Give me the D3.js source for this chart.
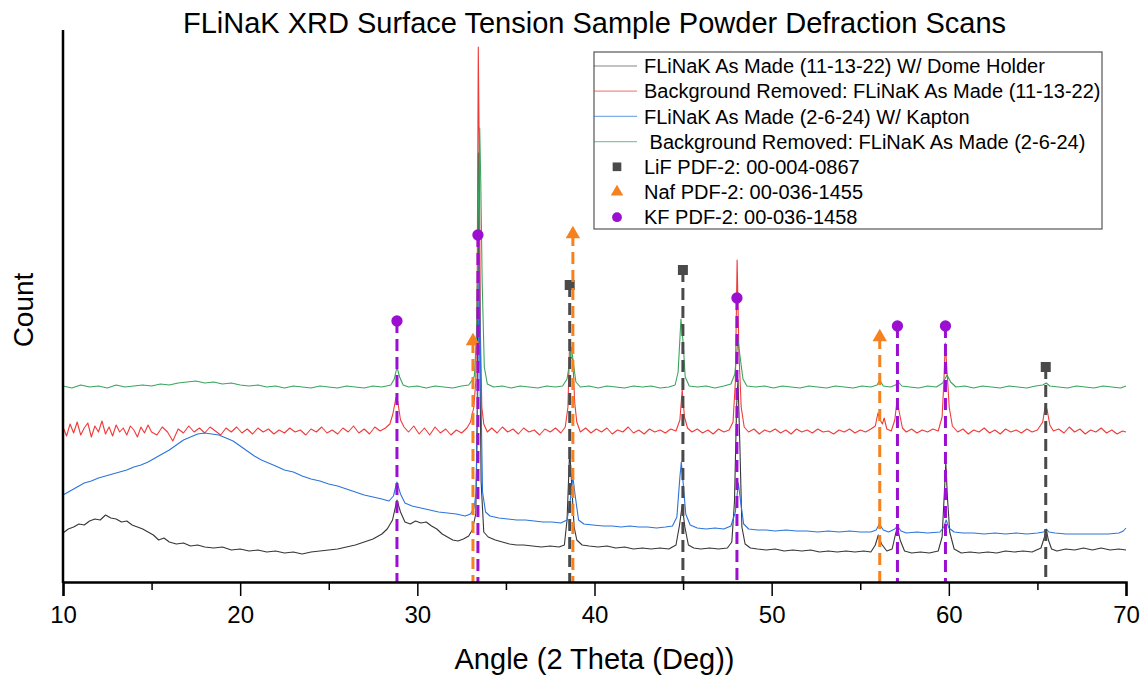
<!DOCTYPE html>
<html>
<head>
<meta charset="utf-8">
<script src="https://cdn.jsdelivr.net/npm/d3@7"></script>
<style>
  body { margin: 0; background: #fff; }
  text { font-family: "Liberation Sans", Arial, sans-serif; }
</style>
</head>
<body>
<svg id="chart"></svg>
<script>
// scan data: [angle (2 theta), count (arbitrary units)]
const domeScan = [
  [10, 49], [10.3, 53], [10.6, 55], [10.9, 58], [11.2, 57], [11.5, 61], [11.8, 63], [12.1, 62], [12.4, 67], [12.7, 64],
  [13.0, 63], [13.3, 60], [13.6, 61], [13.9, 57], [14.2, 55], [14.5, 53], [14.8, 50], [15.1, 47], [15.4, 42], [15.7, 44],
  [16.0, 40], [16.4, 38], [16.8, 39], [17.2, 36], [17.6, 37], [18.0, 35], [18.5, 34], [19.0, 35], [19.5, 32], [20.0, 33],
  [20.5, 31], [21.0, 32], [21.5, 30], [22.0, 31], [22.5, 29], [23.0, 30], [23.5, 28], [24.0, 30], [24.5, 31], [25.0, 32],
  [25.5, 33], [26.0, 35], [26.5, 37], [27.0, 40], [27.5, 43], [28.0, 48], [28.3, 53], [28.6, 62], [28.85, 82], [29.05, 70],
  [29.3, 60], [29.6, 58], [29.9, 61], [30.2, 59], [30.5, 60], [30.8, 56], [31.1, 53], [31.4, 48], [31.7, 45], [32.0, 42],
  [32.3, 41], [32.6, 43], [32.9, 46], [33.1, 52], [33.3, 68], [33.38, 170], [33.45, 429], [33.52, 250], [33.6, 100], [33.75, 50],
  [34.0, 45], [34.4, 42], [34.8, 40], [35.2, 38], [35.6, 37], [36.0, 37], [36.5, 36], [37.0, 35], [37.5, 36], [38.0, 35],
  [38.3, 37], [38.45, 62], [38.6, 132], [38.72, 95], [38.85, 55], [39.0, 42], [39.3, 37], [39.7, 36], [40.2, 35], [40.7, 36],
  [41.2, 34], [41.7, 35], [42.2, 33], [42.7, 34], [43.2, 33], [43.7, 34], [44.2, 33], [44.6, 37], [44.8, 57], [44.95, 77],
  [45.1, 55], [45.3, 37], [45.6, 34], [46.0, 33], [46.5, 34], [47.0, 33], [47.5, 34], [47.75, 40], [47.9, 80], [48.02, 175],
  [48.1, 202], [48.2, 140], [48.32, 55], [48.5, 38], [48.8, 34], [49.2, 33], [49.7, 32], [50.2, 33], [50.7, 31], [51.2, 32],
  [51.7, 31], [52.2, 32], [52.7, 30], [53.2, 31], [53.7, 30], [54.2, 31], [54.7, 30], [55.2, 31], [55.6, 30], [55.85, 37],
  [56.02, 47], [56.2, 38], [56.5, 31], [56.8, 33], [56.98, 47], [57.1, 55], [57.25, 42], [57.5, 31], [57.9, 29], [58.4, 30],
  [58.9, 29], [59.4, 31], [59.62, 45], [59.75, 90], [59.83, 119], [59.92, 85], [60.05, 50], [60.3, 33], [60.7, 29], [61.2, 30],
  [61.7, 29], [62.2, 30], [62.7, 29], [63.2, 31], [63.7, 30], [64.2, 31], [64.7, 30], [65.2, 34], [65.4, 45], [65.5, 52],
  [65.62, 42], [65.8, 33], [66.1, 31], [66.6, 33], [67.1, 32], [67.6, 34], [68.1, 32], [68.6, 34], [69.1, 32], [69.6, 33], [70.0, 32]
];

const domeRemoved = [
  [10, 155], [10.2, 146], [10.4, 158], [10.6, 149], [10.8, 160], [11.0, 147], [11.2, 154], [11.4, 159], [11.6, 145], [11.8, 156],
  [12.0, 150], [12.2, 161], [12.4, 148], [12.6, 155], [12.8, 146], [13.0, 157], [13.2, 150], [13.4, 154], [13.6, 147], [13.8, 156],
  [14.0, 152], [14.2, 145], [14.4, 155], [14.6, 149], [14.8, 157], [15.0, 150], [15.3, 147], [15.6, 155], [15.9, 150], [16.2, 141],
  [16.5, 153], [16.8, 149], [17.1, 156], [17.4, 150], [17.7, 154], [18.0, 149], [18.3, 155], [18.6, 151], [18.9, 147], [19.2, 154],
  [19.5, 150], [19.8, 155], [20.1, 149], [20.4, 153], [20.7, 148], [21.0, 154], [21.3, 150], [21.6, 153], [21.9, 148], [22.2, 152],
  [22.5, 149], [22.8, 154], [23.1, 150], [23.4, 152], [23.7, 147], [24.0, 153], [24.3, 150], [24.6, 155], [24.9, 149], [25.2, 152],
  [25.5, 148], [25.8, 154], [26.1, 150], [26.4, 156], [26.7, 149], [27.0, 153], [27.3, 148], [27.6, 155], [27.9, 151], [28.2, 154],
  [28.45, 158], [28.62, 168], [28.8, 185], [28.9, 180], [29.05, 162], [29.25, 155], [29.5, 150], [29.8, 156], [30.1, 148], [30.4, 154],
  [30.7, 147], [31.0, 155], [31.3, 149], [31.6, 153], [31.9, 147], [32.2, 152], [32.5, 149], [32.8, 154], [33.0, 160], [33.18, 174],
  [33.3, 200], [33.38, 300], [33.44, 535], [33.5, 420], [33.56, 250], [33.64, 175], [33.75, 158], [33.95, 150], [34.2, 154], [34.5, 149],
  [34.8, 155], [35.1, 150], [35.4, 153], [35.7, 148], [36.0, 154], [36.3, 150], [36.6, 152], [36.9, 147], [37.2, 153], [37.5, 150],
  [37.8, 154], [38.1, 149], [38.35, 155], [38.5, 175], [38.6, 242], [38.68, 225], [38.78, 222], [38.88, 180], [39.0, 160], [39.2, 150],
  [39.5, 154], [39.8, 149], [40.1, 153], [40.4, 150], [40.7, 154], [41.0, 148], [41.3, 152], [41.6, 150], [41.9, 155], [42.2, 149],
  [42.5, 152], [42.8, 148], [43.1, 153], [43.4, 150], [43.7, 152], [44.0, 149], [44.3, 153], [44.6, 151], [44.82, 162], [44.95, 192],
  [45.08, 165], [45.25, 154], [45.5, 150], [45.8, 153], [46.1, 149], [46.4, 152], [46.7, 148], [47.0, 153], [47.3, 150], [47.6, 152],
  [47.82, 160], [47.95, 200], [48.05, 322], [48.15, 230], [48.28, 175], [48.45, 155], [48.7, 150], [49.0, 153], [49.3, 148], [49.6, 152],
  [49.9, 150], [50.2, 153], [50.5, 149], [50.8, 152], [51.1, 148], [51.4, 153], [51.7, 150], [52.0, 152], [52.3, 149], [52.6, 153],
  [52.9, 150], [53.2, 151], [53.5, 148], [53.8, 152], [54.1, 150], [54.4, 153], [54.7, 149], [55.0, 152], [55.3, 150], [55.6, 153],
  [55.85, 156], [56.0, 169], [56.12, 162], [56.25, 158], [56.35, 164], [56.5, 153], [56.75, 151], [56.95, 162], [57.08, 182], [57.2, 170],
  [57.38, 154], [57.6, 150], [57.9, 153], [58.2, 149], [58.5, 152], [58.8, 150], [59.1, 153], [59.4, 151], [59.62, 165], [59.72, 200],
  [59.8, 239], [59.9, 210], [60.02, 175], [60.2, 156], [60.5, 150], [60.8, 153], [61.1, 148], [61.4, 152], [61.7, 150], [62.0, 154],
  [62.3, 149], [62.6, 152], [62.9, 148], [63.2, 153], [63.5, 150], [63.8, 152], [64.1, 149], [64.4, 153], [64.7, 150], [65.0, 152],
  [65.3, 160], [65.45, 177], [65.55, 172], [65.7, 157], [65.9, 151], [66.2, 153], [66.5, 149], [66.8, 155], [67.1, 150], [67.4, 153],
  [67.7, 148], [68.0, 152], [68.3, 150], [68.6, 154], [68.9, 149], [69.2, 152], [69.5, 148], [69.8, 151], [70.0, 150]
];

const kaptonScan = [
  [10, 87], [10.4, 91], [10.8, 95], [11.2, 99], [11.6, 101], [12.0, 104], [12.4, 106], [12.8, 108], [13.2, 110], [13.6, 112],
  [14.0, 115], [14.4, 117], [14.8, 120], [15.2, 124], [15.6, 128], [16.0, 132], [16.4, 137], [16.8, 142], [17.2, 145], [17.6, 148],
  [18.0, 149], [18.4, 148], [18.8, 147], [19.2, 144], [19.6, 141], [20.0, 136], [20.4, 131], [20.8, 126], [21.2, 122], [21.6, 119],
  [22.0, 116], [22.5, 112], [23.0, 110], [23.5, 106], [24.0, 103], [24.5, 101], [25.0, 98], [25.5, 96], [26.0, 93], [26.5, 90],
  [27.0, 87], [27.5, 85], [28.0, 83], [28.4, 81], [28.65, 86], [28.85, 100], [29.05, 88], [29.3, 79], [29.7, 76], [30.2, 74],
  [30.7, 72], [31.2, 70], [31.7, 69], [32.2, 68], [32.7, 66], [33.0, 68], [33.2, 74], [33.32, 90], [33.42, 200], [33.5, 327],
  [33.58, 200], [33.68, 90], [33.85, 70], [34.1, 66], [34.6, 64], [35.1, 63], [35.6, 62], [36.1, 62], [36.6, 61], [37.1, 60],
  [37.6, 60], [38.1, 59], [38.45, 62], [38.62, 80], [38.78, 105], [38.92, 85], [39.1, 62], [39.4, 58], [39.9, 57], [40.5, 56],
  [41.0, 56], [41.5, 55], [42.0, 56], [42.5, 55], [43.0, 55], [43.5, 54], [44.0, 55], [44.4, 56], [44.65, 65], [44.82, 105],
  [44.9, 120], [45.0, 100], [45.15, 68], [45.4, 57], [45.8, 54], [46.3, 53], [46.8, 54], [47.3, 53], [47.7, 56], [47.95, 70],
  [48.12, 99], [48.25, 80], [48.42, 58], [48.7, 53], [49.2, 52], [49.7, 52], [50.2, 51], [50.8, 52], [51.4, 51], [52.0, 51],
  [52.6, 50], [53.2, 51], [53.8, 50], [54.4, 51], [55.0, 50], [55.6, 50], [55.9, 52], [56.08, 58], [56.3, 52], [56.6, 50],
  [56.95, 53], [57.1, 56], [57.3, 51], [57.6, 49], [58.2, 50], [58.8, 49], [59.5, 50], [59.72, 55], [59.85, 62], [60.0, 54],
  [60.3, 50], [60.8, 49], [61.4, 49], [62.0, 48], [62.6, 49], [63.2, 48], [63.8, 49], [64.4, 48], [65.0, 49], [65.35, 50],
  [65.5, 53], [65.65, 50], [66.0, 49], [66.6, 48], [67.2, 48], [67.8, 48], [68.4, 48], [69.0, 48], [69.6, 49], [69.85, 51], [70.0, 54]
];

const kaptonRemoved = [
  [10, 196], [10.5, 194], [11, 197], [11.5, 195], [12, 196], [12.5, 194], [13, 197], [13.5, 195], [14, 196], [14.5, 197],
  [15, 196], [15.5, 198], [16, 197], [16.5, 199], [17, 200], [17.5, 201], [18, 199], [18.5, 200], [19, 198], [19.5, 199],
  [20, 197], [20.5, 196], [21, 197], [21.5, 195], [22, 196], [22.5, 194], [23, 196], [23.5, 195], [24, 194], [24.5, 196],
  [25, 195], [25.5, 194], [26, 196], [26.5, 195], [27, 194], [27.5, 196], [28, 195], [28.5, 197], [28.7, 203], [28.85, 215],
  [29.0, 205], [29.2, 197], [29.5, 195], [30, 196], [30.5, 194], [31, 196], [31.5, 195], [32, 194], [32.5, 196], [32.9, 197],
  [33.1, 202], [33.22, 206], [33.35, 250], [33.45, 380], [33.52, 454], [33.58, 400], [33.66, 300], [33.78, 215], [33.95, 198], [34.3, 195],
  [34.8, 196], [35.3, 194], [35.8, 196], [36.3, 195], [36.8, 194], [37.3, 196], [37.8, 195], [38.2, 196], [38.45, 203], [38.6, 220],
  [38.7, 235], [38.8, 220], [38.95, 200], [39.2, 195], [39.7, 196], [40.2, 194], [40.7, 196], [41.2, 195], [41.7, 194], [42.2, 196],
  [42.7, 195], [43.2, 196], [43.7, 194], [44.2, 195], [44.55, 197], [44.72, 210], [44.88, 263], [45.0, 240], [45.12, 205], [45.35, 196],
  [45.8, 195], [46.3, 196], [46.8, 194], [47.3, 196], [47.7, 198], [47.92, 208], [48.1, 242], [48.22, 225], [48.38, 203], [48.6, 196],
  [49.1, 195], [49.6, 196], [50.1, 194], [50.6, 196], [51.1, 195], [51.6, 194], [52.1, 196], [52.6, 195], [53.1, 194], [53.6, 196],
  [54.1, 195], [54.6, 194], [55.1, 196], [55.6, 195], [55.95, 197], [56.1, 202], [56.3, 196], [56.7, 195], [57.0, 197], [57.15, 200],
  [57.35, 196], [57.8, 195], [58.3, 194], [58.8, 196], [59.3, 195], [59.65, 199], [59.9, 207], [60.1, 200], [60.4, 195], [60.9, 196],
  [61.4, 194], [61.9, 196], [62.4, 195], [62.9, 194], [63.4, 196], [63.9, 195], [64.4, 194], [64.9, 196], [65.3, 197], [65.5, 199],
  [65.7, 196], [66.2, 195], [66.7, 194], [67.2, 196], [67.7, 195], [68.2, 194], [68.7, 196], [69.2, 195], [69.7, 194], [70, 196]
];

// reference peaks (PDF-2 cards)
const lifAngles = [38.6, 44.99, 65.47];
const lifCounts = [297, 312, 215];
const nafAngles = [33.14, 38.78, 56.1];
const nafCounts = [241, 348, 245];
const kfAngles = [28.85, 33.42, 48.04, 57.1, 59.81];
const kfCounts = [261, 347, 284, 256, 256];

const xTicks = [10, 20, 30, 40, 50, 60, 70];
const xMinorTicks = [15, 25, 35, 45, 55, 65];

const seriesNames = [
  'FLiNaK As Made (11-13-22) W/ Dome Holder',
  'Background Removed: FLiNaK As Made (11-13-22)',
  'FLiNaK As Made (2-6-24) W/ Kapton',
  ' Background Removed: FLiNaK As Made (2-6-24)'
];
const refNames = ['LiF PDF-2: 00-004-0867', 'Naf PDF-2: 00-036-1455', 'KF PDF-2: 00-036-1458'];

const width = 1148, height = 676;
const margin = { top: 30, right: 22, bottom: 94, left: 63 };

const svg = d3.select('#chart')
  .attr('width', width)
  .attr('height', height);

const x = d3.scaleLinear().domain([10, 70]).range([margin.left, width - margin.right]);
const y = d3.scaleLinear().domain([0, 552]).range([height - margin.bottom, margin.top]);

const series = [
  { name: seriesNames[0], data: domeScan, color: '#363636' },
  { name: seriesNames[1], data: domeRemoved, color: '#f03a3a' },
  { name: seriesNames[2], data: kaptonScan, color: '#2a74dc' },
  { name: seriesNames[3], data: kaptonRemoved, color: '#3aa45e' }
];

const refs = [
  { name: refNames[0], angles: lifAngles, counts: lifCounts, color: '#4a4a4a', shape: d3.symbolSquare, size: 100 },
  { name: refNames[1], angles: nafAngles, counts: nafCounts, color: '#f5821f', shape: d3.symbolTriangle, size: 90 },
  { name: refNames[2], angles: kfAngles, counts: kfCounts, color: '#9b0fd0', shape: d3.symbolCircle, size: 100 }
];

const line = d3.line().x(d => x(d[0])).y(d => y(d[1]));

// scans
svg.append('g').selectAll('path')
  .data(series)
  .enter()
  .append('path')
  .attr('d', d => line(d.data))
  .attr('fill', 'none')
  .attr('stroke', d => d.color)
  .attr('stroke-width', 1.1)
  .attr('stroke-linejoin', 'round');

// reference drop lines and markers
refs.forEach(r => {
  const g = svg.append('g');
  const pts = r.angles.map((a, i) => [a, r.counts[i]]);
  g.selectAll('line')
    .data(pts)
    .enter()
    .append('line')
    .attr('x1', d => x(d[0]))
    .attr('x2', d => x(d[0]))
    .attr('y1', d => y(d[1]))
    .attr('y2', y(0))
    .attr('stroke', r.color)
    .attr('stroke-width', 3)
    .attr('stroke-dasharray', '12,6');
  g.selectAll('path')
    .data(pts)
    .enter()
    .append('path')
    .attr('d', d3.symbol().type(r.shape).size(r.size))
    .attr('transform', d => `translate(${x(d[0])},${y(d[1])})`)
    .attr('fill', r.color);
});

// axes
const xAxis = svg.append('g')
  .attr('transform', `translate(0,${y(0)})`)
  .call(d3.axisBottom(x).tickValues(xTicks).tickSize(14).tickPadding(10).tickFormat(d3.format('d')));
xAxis.selectAll('text').style('font-size', '24px').attr('fill', '#000');
xAxis.selectAll('line').attr('stroke', '#000').attr('stroke-width', 1.5);
xAxis.select('.domain').attr('stroke', '#000').attr('stroke-width', 2.5);

svg.append('g')
  .attr('transform', `translate(0,${y(0)})`)
  .call(d3.axisBottom(x).tickValues(xMinorTicks).tickSize(8).tickFormat(''))
  .call(g => g.select('.domain').remove())
  .selectAll('line').attr('stroke', '#000').attr('stroke-width', 1.5);

svg.append('line')
  .attr('x1', x(10)).attr('x2', x(10))
  .attr('y1', margin.top).attr('y2', y(0) + 1)
  .attr('stroke', '#000')
  .attr('stroke-width', 2.5);

// titles
svg.append('text')
  .attr('x', (x(10) + x(70)) / 2)
  .attr('y', 33)
  .attr('text-anchor', 'middle')
  .style('font-size', '29px')
  .text('FLiNaK XRD Surface Tension Sample Powder Defraction Scans');

svg.append('text')
  .attr('x', (x(10) + x(70)) / 2)
  .attr('y', 669)
  .attr('text-anchor', 'middle')
  .style('font-size', '29px')
  .text('Angle (2 Theta (Deg))');

svg.append('text')
  .attr('transform', 'translate(33,310) rotate(-90)')
  .attr('text-anchor', 'middle')
  .style('font-size', '28px')
  .text('Count');

// legend
const legend = svg.append('g').attr('transform', 'translate(594,52)');
legend.append('rect')
  .attr('width', 508)
  .attr('height', 177)
  .attr('fill', '#fff')
  .attr('stroke', '#555')
  .attr('stroke-width', 1.2);

const rowH = 25.2;
const rows = legend.selectAll('g.row')
  .data(series.map(s => ({ name: s.name, color: s.color, kind: 'line' }))
    .concat(refs.map(r => ({ name: r.name, color: r.color, kind: 'sym', shape: r.shape, size: r.size }))))
  .enter()
  .append('g')
  .attr('class', 'row')
  .attr('transform', (d, i) => `translate(0,${14 + i * rowH})`);

rows.filter(d => d.kind === 'line')
  .append('line')
  .attr('x1', 0).attr('x2', 43)
  .attr('stroke', d => d.color)
  .attr('stroke-opacity', 0.6)
  .attr('stroke-width', 1.2);

rows.filter(d => d.kind === 'sym')
  .append('path')
  .attr('d', d => d3.symbol().type(d.shape).size(d.size * 0.75)())
  .attr('transform', 'translate(23,0)')
  .attr('fill', d => d.color);

rows.append('text')
  .attr('x', 50)
  .attr('dy', '0.36em')
  .style('font-size', '20px')
  .style('white-space', 'pre')
  .attr('xml:space', 'preserve')
  .text(d => d.name);
</script>
</body>
</html>
